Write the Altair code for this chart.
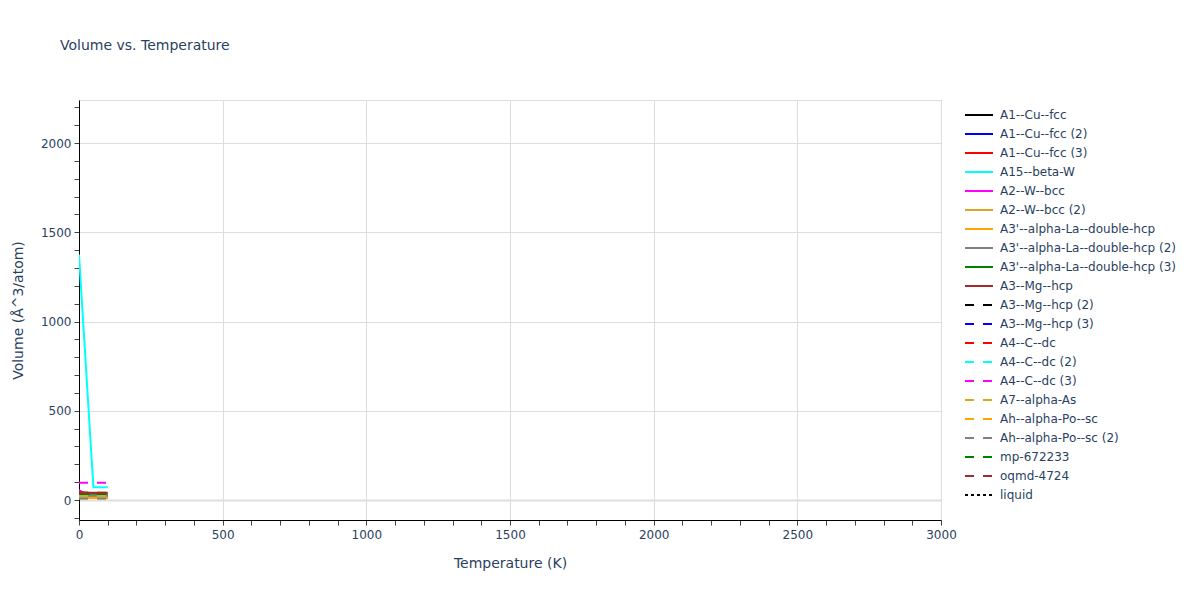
import altair as alt
import pandas as pd

# ---- data ----
series_names = [
    "A1--Cu--fcc", "A1--Cu--fcc (2)", "A1--Cu--fcc (3)", "A15--beta-W",
    "A2--W--bcc", "A2--W--bcc (2)", "A3'--alpha-La--double-hcp",
    "A3'--alpha-La--double-hcp (2)", "A3'--alpha-La--double-hcp (3)",
    "A3--Mg--hcp", "A3--Mg--hcp (2)", "A3--Mg--hcp (3)", "A4--C--dc",
    "A4--C--dc (2)", "A4--C--dc (3)", "A7--alpha-As", "Ah--alpha-Po--sc",
    "Ah--alpha-Po--sc (2)", "mp-672233", "oqmd-4724", "liquid",
]
series_colors = [
    "black", "blue", "red", "cyan", "magenta", "goldenrod", "orange", "gray",
    "green", "brown", "black", "blue", "red", "cyan", "magenta", "goldenrod",
    "orange", "gray", "green", "brown", "black",
]
series_dash = [[1, 0]] * 10 + [[9, 9]] * 10 + [[3, 3]]

temps = {
    "A1--Cu--fcc": [0, 100],
    "A1--Cu--fcc (2)": [0, 100],
    "A1--Cu--fcc (3)": [0, 100],
    "A15--beta-W": [0, 50, 100],
    "A2--W--bcc": [0, 25, 50, 100],
    "A2--W--bcc (2)": [0, 100],
    "A3'--alpha-La--double-hcp": [0, 100],
    "A3'--alpha-La--double-hcp (2)": [0, 100],
    "A3'--alpha-La--double-hcp (3)": [0, 100],
    "A3--Mg--hcp": [0, 50, 100],
    "A3--Mg--hcp (2)": [0, 100],
    "A3--Mg--hcp (3)": [0, 100],
    "A4--C--dc": [0, 100],
    "A4--C--dc (2)": [0, 100],
    "A4--C--dc (3)": [0, 100],
    "A7--alpha-As": [0, 100],
    "Ah--alpha-Po--sc": [0, 100],
    "Ah--alpha-Po--sc (2)": [0, 100],
    "mp-672233": [0, 100],
    "oqmd-4724": [0, 100],
}
volumes = {
    "A1--Cu--fcc": [21, 22],
    "A1--Cu--fcc (2)": [12, 12.5],
    "A1--Cu--fcc (3)": [13, 13.5],
    "A15--beta-W": [1375, 72, 72],
    "A2--W--bcc": [56, 30, 14, 13],
    "A2--W--bcc (2)": [16, 16.5],
    "A3'--alpha-La--double-hcp": [11, 11.5],
    "A3'--alpha-La--double-hcp (2)": [24, 25],
    "A3'--alpha-La--double-hcp (3)": [34, 35],
    "A3--Mg--hcp": [44, 40, 40],
    "A3--Mg--hcp (2)": [23, 23.5],
    "A3--Mg--hcp (3)": [23, 23.5],
    "A4--C--dc": [11, 11.3],
    "A4--C--dc (2)": [11, 11.3],
    "A4--C--dc (3)": [97, 97],
    "A7--alpha-As": [22, 22.5],
    "Ah--alpha-Po--sc": [8, 8.3],
    "Ah--alpha-Po--sc (2)": [8, 8.2],
    "mp-672233": [35, 35.5],
    "oqmd-4724": [40, 40.5],
}

x_ticks = list(range(0, 3001, 100))
y_ticks = list(range(-100, 2201, 100))

rows = []
for name in series_names:
    for t, v in zip(temps.get(name, []), volumes.get(name, [])):
        rows.append({"series": name, "T": t, "V": v})
df = pd.DataFrame(rows)
legend_df = pd.DataFrame({"series": series_names})

FONT = "DejaVu Sans"
TXT = "#2a3f5f"
W, H = 862, 420

color_scale = alt.Scale(domain=series_names, range=series_colors)
dash_scale = alt.Scale(domain=series_names, range=series_dash)

grid_op_x = {"condition": {"test": "datum.value % 500 === 0", "value": 1}, "value": 0}
grid_op_y = {"condition": {"test": "datum.value % 500 === 0", "value": 1}, "value": 0}
grid_w_y = {"condition": {"test": "datum.value === 0", "value": 2}, "value": 1}

lines = alt.Chart(df).mark_line(strokeWidth=2, clip=True).encode(
    x=alt.X("T:Q", title="Temperature (K)",
            scale=alt.Scale(domain=[0, 3000], nice=False, zero=False),
            axis=alt.Axis(values=x_ticks, format="d",
                          labelExpr="datum.value % 500 === 0 ? datum.label : ''",
                          grid=True, gridColor="#dedede", gridOpacity=grid_op_x,
                          domainColor="black", domainWidth=1,
                          tickColor="#444", tickSize=5, tickWidth=1,
                          labelFont=FONT, labelFontSize=12, labelColor=TXT,
                          labelPadding=4, labelFlush=False,
                          titleFont=FONT, titleFontSize=14, titleColor=TXT,
                          titleFontWeight="normal", titlePadding=16)),
    y=alt.Y("V:Q", title="Volume (Å^3/atom)",
            scale=alt.Scale(domain=[-112, 2241], nice=False, zero=False),
            axis=alt.Axis(values=y_ticks, format="d",
                          labelExpr="datum.value % 500 === 0 ? datum.label : ''",
                          grid=True, gridColor="#dedede", gridOpacity=grid_op_y,
                          gridWidth=grid_w_y,
                          domainColor="black", domainWidth=1,
                          tickColor="#444", tickSize=5, tickWidth=1,
                          labelFont=FONT, labelFontSize=12, labelColor=TXT,
                          labelPadding=3, labelFlush=False,
                          titleFont=FONT, titleFontSize=14, titleColor=TXT,
                          titleFontWeight="normal", titlePadding=15)),
    color=alt.Color("series:N", scale=color_scale, legend=None),
    strokeDash=alt.StrokeDash("series:N", scale=dash_scale, legend=None),
    detail="series:N",
)

leg_y = alt.Y("series:N", scale=alt.Scale(type="point", domain=series_names,
                                          range=[15, 395], padding=0),
              axis=None)

legend_lines = alt.Chart(legend_df).mark_rule(strokeWidth=2).encode(
    x=alt.value(886), x2=alt.value(914), y=leg_y,
    color=alt.Color("series:N", scale=color_scale, legend=None),
    strokeDash=alt.StrokeDash("series:N", scale=dash_scale, legend=None),
)
legend_text = alt.Chart(legend_df).mark_text(
    align="left", baseline="middle", font=FONT, fontSize=12, color=TXT
).encode(x=alt.value(921), y=leg_y, text="series:N")

chart = alt.layer(lines, legend_lines, legend_text).resolve_scale(
    y="independent"
).properties(
    width=W, height=H,
    title=alt.TitleParams("Volume vs. Temperature", anchor="start", frame="group",
                          font=FONT, fontSize=14, color=TXT, fontWeight="normal",
                          dx=-19, offset=36, baseline="alphabetic"),
    autosize=alt.AutoSizeParams(type="none"),
    padding={"left": 71, "top": 92, "right": 251, "bottom": 72},
).configure_view(stroke=None).configure(background="white")

chart.save("out.html", embed_options={"renderer": "svg", "actions": False})
